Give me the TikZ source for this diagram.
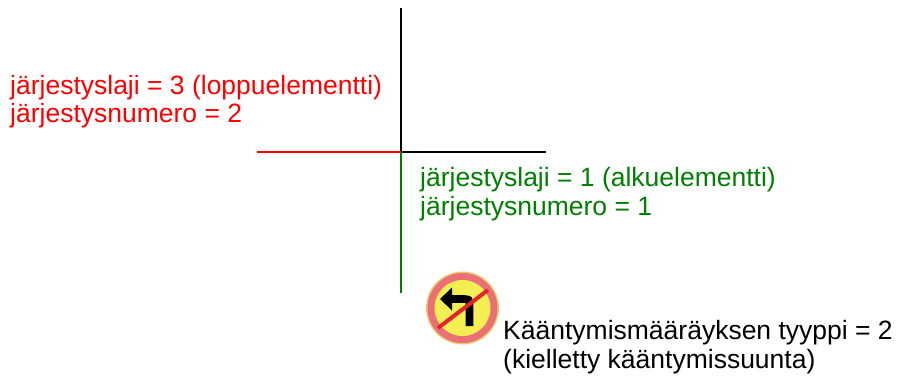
\documentclass[tikz,border=0pt]{standalone}
\usepackage{fontspec}
\setmainfont{Liberation Sans}
\begin{document}
\begin{tikzpicture}[x=1pt,y=-1pt,
  lbl/.style={inner sep=0pt,align=left,anchor=base west,font=\fontsize{26.5}{28.5}\selectfont},
  seg/.style={line width=1.5pt}]
\definecolor{sgreen}{RGB}{0,128,0}
\definecolor{sred}{RGB}{255,0,0}
\definecolor{ringred}{RGB}{233,112,116}
\definecolor{rim}{RGB}{242,200,110}
\definecolor{signyellow}{RGB}{243,238,82}
\definecolor{barred}{RGB}{225,35,45}
\useasboundingbox (0,0) rectangle (907,376);
\fill[white] (0,0) rectangle (907,376);
% junction and ends
\coordinate (J) at (401,152);
\coordinate (top) at (401,8);
\coordinate (left) at (257,152);
\coordinate (right) at (546,152);
\coordinate (bottom) at (401,293);
\draw[seg,black] (J) -- (top);
\draw[seg,black] (J) -- (right);
\draw[seg,sred] (left) -- (J);
\draw[seg,sgreen] (J) -- (bottom);
% texts (base anchor = baseline of last line)
\node[lbl,text=sred] (redtxt) at (10,122.5) {järjestyslaji = 3 (loppuelementti)\\järjestysnumero = 2};
\node[lbl,text=sgreen] (greentxt) at (420,215) {järjestyslaji = 1 (alkuelementti)\\järjestysnumero = 1};
\node[lbl,text=black] (blacktxt) at (503,368) {Kääntymismääräyksen tyyppi = 2\\(kielletty kääntymissuunta)};
% sign
\coordinate (S) at (462.5,308);
\fill[rim] (S) circle (36.5);
\fill[ringred] (S) circle (35);
\fill[signyellow] (S) circle (28);
\draw[line width=7.6pt,black,line cap=butt] (469.5,326) -- (469.5,306) .. controls (469.5,299) .. (462,299) -- (451,299);
\fill[black] (440,299) -- (452,287.5) -- (452,310.5) -- cycle;
\draw[line width=4pt,barred] (438,328) -- (488,290);
\end{tikzpicture}
\end{document}
